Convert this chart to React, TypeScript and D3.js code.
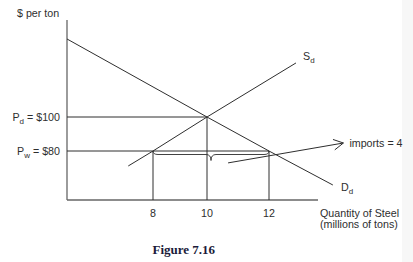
import React from "react";
import * as d3 from "d3";

const quantityTicks = [8, 10, 12];
const worldPrice = 80;
const domesticPrice = 100;
const supplyQ = [5.7, 8, 10, 12.87];
const supplyP = [71.2, 80, 100, 131.8];
const demandQ = [0, 10, 12, 14.06];
const demandP = [145.9, 100, 80, 60];
const importsQ = [10.68, 14.4];
const importsP = [73, 84.7];
const importsLabel = "imports = 4";

const W = 413;
const H = 262;

// schematic (non-uniform) quantity axis, as in the original figure
const x = d3.scaleLinear().domain([0, 8, 10, 12, 14]).range([67, 153, 207, 269, 331]);
const y = d3.scaleLinear().domain([80, 100]).range([151, 117]);

const axisTop = 20;
const axisBottom = 200;
const axisRight = 318;

const ink = "#2e2e2e";
const font = "'Liberation Sans', Arial, sans-serif";

export default function App() {
  const line = d3
    .line<[number, number]>()
    .x((d) => x(d[0]))
    .y((d) => y(d[1]));
  const supply = line(supplyQ.map((q, i) => [q, supplyP[i]]));
  const demand = line(demandQ.map((q, i) => [q, demandP[i]]));

  // brace under world price line between 8 and 12
  const bx1 = x(8);
  const bx2 = x(12);
  const bm = (bx1 + bx2) / 2;
  const y0 = y(worldPrice);
  const yb = y0 + 3.5;
  const yt = y0 + 9.5;
  const r = 5;
  const brace = `M${bx1},${y0} Q${bx1},${yb} ${bx1 + r},${yb} L${bm - r},${yb} Q${bm},${yb} ${bm},${yt} Q${bm},${yb} ${bm + r},${yb} L${bx2 - r},${yb} Q${bx2},${yb} ${bx2},${y0}`;

  const ax1 = x(importsQ[0]);
  const ay1 = y(importsP[0]);
  const ax2 = x(importsQ[1]);
  const ay2 = y(importsP[1]);
  const ang = Math.atan2(ay2 - ay1, ax2 - ax1);
  const hl = 11;
  const ha = 0.5;
  const h1 = [ax2 - hl * Math.cos(ang - ha), ay2 - hl * Math.sin(ang - ha)];
  const h2 = [ax2 - hl * Math.cos(ang + ha), ay2 - hl * Math.sin(ang + ha)];

  const fs = 10.7;
  const sub = 8;

  return (
    <svg
      width={W}
      height={H}
      style={{ position: "absolute", left: 0, top: 0, background: "#fff" }}
    >
      <rect x={402} y={0} width={11} height={H} fill="#f7f7f7" />

      {/* axes */}
      <line x1={x(0)} y1={axisTop} x2={x(0)} y2={axisBottom} stroke="#666" strokeWidth={1.3} />
      <line x1={x(0)} y1={axisBottom} x2={axisRight} y2={axisBottom} stroke="#666" strokeWidth={1.3} />

      {/* price lines */}
      <line x1={x(0)} y1={y(domesticPrice)} x2={x(10)} y2={y(domesticPrice)} stroke={ink} strokeWidth={1} />
      <line x1={x(0)} y1={y(worldPrice)} x2={x(12)} y2={y(worldPrice)} stroke={ink} strokeWidth={1} />

      {/* drop lines */}
      <line x1={x(8)} y1={y(worldPrice)} x2={x(8)} y2={axisBottom} stroke={ink} strokeWidth={1} />
      <line x1={x(12)} y1={y(worldPrice)} x2={x(12)} y2={axisBottom} stroke={ink} strokeWidth={1} />
      <line x1={x(10)} y1={y(domesticPrice)} x2={x(10)} y2={axisBottom} stroke={ink} strokeWidth={1} />

      {/* curves */}
      <path d={demand || ""} fill="none" stroke={ink} strokeWidth={1} />
      <path d={supply || ""} fill="none" stroke={ink} strokeWidth={1} />

      {/* brace */}
      <path d={brace} fill="none" stroke={ink} strokeWidth={0.9} />

      {/* imports arrow */}
      <line x1={ax1} y1={ay1} x2={ax2} y2={ay2} stroke={ink} strokeWidth={1} />
      <polyline
        points={`${h1[0]},${h1[1]} ${ax2},${ay2} ${h2[0]},${h2[1]}`}
        fill="none"
        stroke={ink}
        strokeWidth={1}
      />
      <text x={ax2 + 6} y={147} fontFamily={font} fontSize={fs} fill={ink}>
        {importsLabel}
      </text>

      {/* curve labels */}
      <text x={303} y={60} fontFamily={font} fontSize={fs} fill={ink}>
        S<tspan dy={3} fontSize={sub}>d</tspan>
      </text>
      <text x={341} y={191} fontFamily={font} fontSize={fs} fill={ink}>
        D<tspan dy={3} fontSize={sub}>d</tspan>
      </text>

      {/* y labels */}
      <text x={17} y={17} fontFamily={font} fontSize={fs} fill={ink}>
        $ per ton
      </text>
      <text x={60} y={120.5} textAnchor="end" fontFamily={font} fontSize={fs} fill={ink}>
        P<tspan dy={3} fontSize={sub}>d</tspan>
        <tspan dy={-3}> = $100</tspan>
      </text>
      <text x={60} y={155} textAnchor="end" fontFamily={font} fontSize={fs} fill={ink}>
        P<tspan dy={3} fontSize={sub}>w</tspan>
        <tspan dy={-3}> = $80</tspan>
      </text>

      {/* x ticks */}
      {quantityTicks.map((t) => (
        <text key={t} x={x(t)} y={216.5} textAnchor="middle" fontFamily={font} fontSize={fs} fill={ink}>
          {t}
        </text>
      ))}
      <text x={320} y={216.5} fontFamily={font} fontSize={fs} fill={ink}>
        Quantity of Steel
      </text>
      <text x={320} y={227.5} fontFamily={font} fontSize={fs} fill={ink}>
        (millions of tons)
      </text>

      <text x={152.5} y={253.5} fontFamily="'Liberation Serif', 'Times New Roman', serif" fontWeight="bold" fontSize={13} fill="#1b1b3a">
        Figure 7.16
      </text>
    </svg>
  );
}
